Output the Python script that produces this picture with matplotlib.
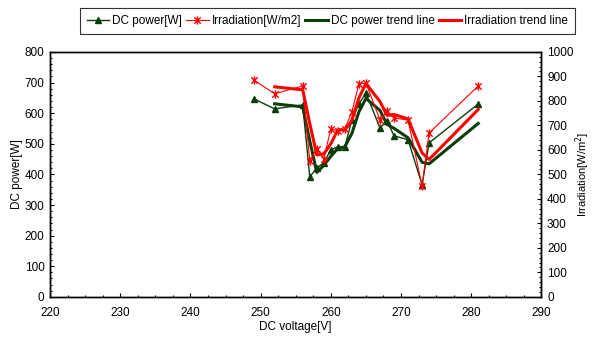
import numpy as np
import matplotlib.pyplot as plt
from matplotlib.path import Path
from matplotlib.ticker import MultipleLocator

plt.rcParams['font.family'] = ['Liberation Sans', 'DejaVu Sans']
plt.rcParams['font.size'] = 8.5

# measurements, in the order they were logged
voltage = [249, 252, 256, 257, 258, 259, 260, 261, 262, 263,
           264, 265, 267, 268, 269, 271, 273, 274, 281]
dc_power = [647, 614, 627, 392, 421, 438, 480, 490, 490, 578,
            630, 666, 552, 575, 526, 513, 366, 503, 630]
irradiation = [886, 829, 861, 555, 604, 563, 686, 678, 686, 755,
               869, 873, 722, 759, 730, 722, 453, 669, 861]

GREEN = '#0a3d0a'
RED = '#ff0000'

# excel style star: an x with a vertical bar through it
star = Path([(-1, -1), (1, 1), (-1, 1), (1, -1), (0, -1.3), (0, 1.3)],
            [Path.MOVETO, Path.LINETO, Path.MOVETO, Path.LINETO,
             Path.MOVETO, Path.LINETO])


def moving_average(vals, n=2):
    return np.convolve(vals, np.ones(n) / n, mode='valid')


fig = plt.figure(figsize=(5.95, 3.46), dpi=100)
ax = fig.add_axes([0.084, 0.142, 0.826, 0.708])
ax2 = ax.twinx()

h1, = ax.plot(voltage, dc_power, '-', color=GREEN, lw=1.0, marker='^',
              markersize=5, label='DC power[W]')
h2, = ax2.plot(voltage, irradiation, '-', color=RED, lw=0.8, marker=star,
               markersize=6, markeredgewidth=1.0, label='Irradiation[W/m2]')

# 2 point moving average trend lines
h3, = ax.plot(voltage[1:], moving_average(dc_power), color=GREEN, lw=2.2,
              label='DC power trend line')
h4, = ax2.plot(voltage[1:], moving_average(irradiation), color=RED, lw=2.2,
               label='Irradiation trend line')

ax.set_xlim(220, 290)
ax.set_ylim(0, 800)
ax2.set_ylim(0, 1000)
ax.xaxis.set_major_locator(MultipleLocator(10))
ax.xaxis.set_minor_locator(MultipleLocator(2.5))
ax.yaxis.set_major_locator(MultipleLocator(100))
ax.yaxis.set_minor_locator(MultipleLocator(20))
ax2.yaxis.set_major_locator(MultipleLocator(100))
ax2.yaxis.set_minor_locator(MultipleLocator(20))

for a in (ax, ax2):
    a.tick_params(which='both', direction='in', width=0.8)
    a.tick_params(which='major', length=3, pad=4)
    a.tick_params(which='minor', length=1.5)
    for s in a.spines.values():
        s.set_linewidth(1.0)
ax.tick_params(axis='x', pad=7)

ax.set_xlabel('DC voltage[V]', labelpad=2)
ax.set_ylabel('DC power[W]', labelpad=1)
ax2.set_ylabel('Irradiation[W/m$^2$]', labelpad=0, fontsize=8)

leg = fig.legend(handles=[h1, h2, h3, h4], ncol=4, loc='upper center',
                 bbox_to_anchor=(0.55, 0.995), frameon=True, fancybox=False,
                 edgecolor='black', handlelength=1.9, handletextpad=0.25,
                 columnspacing=0.35, borderpad=0.6, fontsize=8.5)
leg.get_frame().set_linewidth(0.8)

fig.savefig('out.png', dpi=100)
